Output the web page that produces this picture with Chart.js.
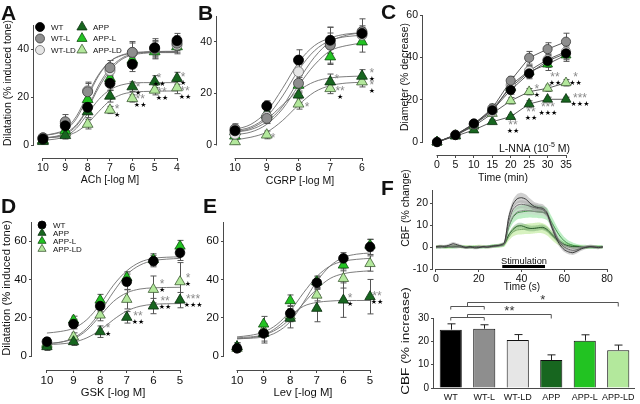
<!DOCTYPE html>
<html>
<head>
<meta charset="utf-8">
<script src="https://cdn.jsdelivr.net/npm/chart.js@4.4.1/dist/chart.umd.min.js"></script>
<style>
  body { margin: 0; background: #fff; }
  #wrap { position: relative; width: 640px; height: 404px; overflow: hidden; background: #fff; }
  canvas { position: absolute; }
</style>
</head>
<body>
<div id="wrap">
  <canvas id="cA" width="200" height="200" style="left:0px;top:0px"></canvas>
  <canvas id="cB" width="190" height="200" style="left:195px;top:0px"></canvas>
  <canvas id="cC" width="260" height="200" style="left:380px;top:0px"></canvas>
  <canvas id="cD" width="205" height="209" style="left:0px;top:195px"></canvas>
  <canvas id="cE" width="185" height="209" style="left:200px;top:195px"></canvas>
  <canvas id="cF1" width="260" height="130" style="left:380px;top:165px"></canvas>
  <canvas id="cF2" width="260" height="124" style="left:380px;top:280px"></canvas>
</div>
<script>
// ---------- DATA ----------
const groups = ["WT", "WT-L", "WT-LD", "APP", "APP-L", "APP-LD"];
const groups4 = ["WT", "APP", "APP-L", "APP-LD"];

// A: ACh
const achDose = [10, 9, 8, 7, 6, 5, 4];
const achWT    = [2.5, 8.0, 15.7, 25.7, 33.6, 40.5, 43.5];
const achWTL   = [3.0, 9.7, 22.2, 32.2, 38.6, 40.3, 42.4];
const achWTLD  = [3.0, 9.0, 22.6, 31.0, 38.5, 40.0, 41.7];
const achAPP   = [1.5, 4.0, 13.9, 20.4, 24.3, 26.4, 27.8];
const achAPPL  = [2.0, 6.0, 19.0, 27.8, 35.4, 38.9, 41.0];
const achAPPLD = [2.0, 5.0, 8.7, 14.6, 19.4, 22.9, 23.9];
const achErr = [
  [1.0, 2.0, 3.0, 3.0, 3.0, 3.0, 3.0],
  [1.5, 3.0, 4.0, 3.0, 4.5, 4.0, 3.0],
  [1.0, 2.0, 3.0, 3.0, 4.0, 3.0, 3.0],
  [1.0, 1.5, 2.5, 2.5, 2.0, 2.5, 2.5],
  [1.0, 2.0, 3.0, 3.0, 3.0, 3.0, 3.0],
  [1.0, 1.5, 2.0, 1.5, 1.5, 2.0, 2.5]
];
const achFitDose = [10, 9.5, 9, 8.5, 8, 7.5, 7, 6.5, 6, 5.5, 5, 4.5, 4];
const achFit = [
  [3.0, 3.5, 5.0, 8.5, 15.5, 25.0, 32.0, 36.0, 38.0, 38.6, 38.9, 39.0, 39.0],
  [4.0, 4.6, 6.2, 11.0, 20.0, 29.0, 34.8, 37.4, 38.4, 38.8, 39.0, 39.0, 39.0],
  [4.0, 4.8, 6.6, 12.0, 21.0, 29.5, 34.8, 37.2, 38.2, 38.5, 38.6, 38.6, 38.6],
  [2.0, 2.4, 3.6, 7.0, 13.0, 19.0, 23.0, 25.0, 25.8, 26.0, 26.0, 26.0, 26.0],
  [3.0, 3.3, 4.5, 8.0, 15.0, 24.0, 31.0, 35.5, 37.5, 38.2, 38.5, 38.5, 38.5],
  [3.0, 3.2, 3.8, 5.5, 9.0, 14.0, 18.5, 21.0, 22.0, 22.3, 22.4, 22.5, 22.5]
];

// B: CGRP
const cgrpDose = [10, 9, 8, 7, 6];
const cgrpWT    = [5.5, 15.1, 32.9, 40.6, 43.2];
const cgrpWTL   = [6.2, 10.3, 23.9, 38.7, 43.9];
const cgrpWTLD  = [4.2, 11.0, 28.4, 39.4, 42.6];
const cgrpAPP   = [5.2, 12.3, 19.4, 24.5, 26.7];
const cgrpAPPL  = [3.5, 11.6, 23.2, 34.2, 40.0];
const cgrpAPPLD = [1.3, 3.9, 15.9, 21.9, 24.5];
const cgrpErr = [
  [1.5, 2.0, 4.0, 5.0, 3.0],
  [2.0, 2.0, 3.0, 7.0, 5.0],
  [1.5, 2.0, 3.0, 4.0, 3.0],
  [1.5, 2.0, 3.0, 3.0, 2.5],
  [1.5, 2.0, 3.0, 3.0, 4.0],
  [1.0, 1.5, 2.0, 2.0, 2.0]
];
const cgrpFitDose = [10, 9.5, 9, 8.5, 8, 7.5, 7, 6.5, 6];
const cgrpFit = [
  [6.0, 8.0, 13.0, 22.0, 32.0, 38.5, 41.5, 43.0, 43.5],
  [5.0, 6.0, 9.0, 15.0, 25.0, 34.0, 40.0, 42.5, 43.5],
  [5.5, 7.0, 11.0, 19.0, 29.0, 36.5, 40.5, 42.0, 42.5],
  [5.0, 6.5, 10.0, 15.5, 21.0, 24.5, 26.0, 26.5, 26.7],
  [4.0, 5.0, 8.0, 14.0, 23.0, 31.0, 36.5, 38.5, 39.5],
  [2.0, 3.0, 5.0, 9.5, 15.5, 20.5, 23.0, 24.0, 24.3]
];

// C: L-NNA time course
const lnnaTime = [0, 5, 10, 15, 20, 25, 30, 35];
const lnnaWT    = [0, 3.3, 8.8, 15.0, 24.6, 32.4, 38.3, 41.9];
const lnnaWTL   = [0, 3.5, 8.5, 15.9, 29.0, 39.8, 43.9, 47.4];
const lnnaWTLD  = [0, 3.3, 8.3, 14.3, 26.9, 33.7, 39.0, 42.7];
const lnnaAPP   = [0, 2.8, 5.7, 9.6, 12.0, 18.0, 20.2, 20.2];
const lnnaAPPL  = [0, 3.0, 8.0, 15.5, 25.8, 33.2, 36.8, 41.1];
const lnnaAPPLD = [0, 3.2, 7.5, 13.5, 19.5, 23.8, 25.4, 28.0];
const lnnaErr = [
  [0.5, 1.0, 1.0, 1.5, 2.0, 2.5, 3.0, 3.0],
  [0.5, 1.0, 1.0, 2.0, 2.0, 3.0, 3.0, 4.0],
  [0.5, 1.0, 1.0, 1.5, 2.0, 2.5, 3.0, 3.0],
  [0.5, 0.8, 1.0, 1.0, 1.0, 1.5, 1.0, 1.0],
  [0.5, 1.0, 1.0, 1.5, 2.0, 2.5, 3.0, 3.0],
  [0.5, 0.8, 1.0, 1.0, 1.5, 1.5, 1.5, 1.5]
];

// D: GSK
const gskDose = [10, 9, 8, 7, 6, 5];
const gskWT    = [7.5, 16.7, 26.1, 38.8, 49.6, 53.9];
const gskAPP   = [4.9, 7.5, 12.7, 20.2, 26.1, 29.2];
const gskAPPL  = [5.7, 18.8, 29.2, 41.0, 50.4, 57.4];
const gskAPPLD = [6.6, 10.1, 21.4, 29.6, 34.8, 38.8];
const gskErr = [
  [2.0, 2.5, 3.0, 4.0, 3.0, 4.0],
  [2.0, 2.0, 3.0, 3.0, 4.0, 4.0],
  [2.0, 2.0, 3.0, 3.0, 3.0, 3.0],
  [2.0, 2.0, 3.0, 5.0, 7.0, 10.0]
];
const gskFitDose = [10, 9.5, 9, 8.5, 8, 7.5, 7, 6.5, 6, 5.5, 5];
const gskFit = [
  [12.0, 12.8, 14.5, 19.0, 27.0, 37.0, 44.5, 49.0, 51.0, 51.6, 51.8],
  [6.0, 6.3, 7.2, 9.5, 13.5, 19.0, 23.5, 26.0, 27.0, 27.3, 27.4],
  [6.5, 7.2, 9.5, 14.5, 23.0, 33.5, 42.5, 47.5, 49.8, 50.6, 51.0],
  [6.5, 7.2, 9.0, 13.5, 21.0, 28.5, 33.0, 35.0, 35.6, 35.8, 35.9]
];

// E: Lev
const levDose = [10, 9, 8, 7, 6, 5];
const levWT    = [4.0, 11.8, 22.3, 38.3, 51.0, 57.0];
const levAPP   = [4.9, 11.8, 19.7, 24.9, 29.2, 31.0];
const levAPPL  = [4.9, 16.7, 28.9, 38.8, 47.5, 57.9];
const levAPPLD = [4.0, 13.6, 20.9, 31.8, 40.5, 48.3];
const levErr = [
  [2.0, 4.0, 4.0, 3.0, 3.0, 4.0],
  [2.0, 5.0, 5.0, 7.0, 9.0, 9.0],
  [2.0, 4.0, 3.0, 3.0, 3.0, 3.0],
  [2.0, 3.0, 3.0, 3.0, 5.0, 4.0]
];
const levFitDose = [10, 9.5, 9, 8.5, 8, 7.5, 7, 6.5, 6, 5.5, 5];
const levFit = [
  [9.0, 9.3, 10.0, 12.5, 18.0, 28.0, 39.0, 47.0, 51.5, 53.2, 53.8],
  [9.0, 9.5, 11.0, 15.0, 21.0, 26.0, 28.0, 28.7, 29.0, 29.0, 29.0],
  [10.0, 10.8, 12.5, 16.5, 23.5, 33.0, 41.5, 47.0, 49.5, 50.5, 51.0],
  [9.5, 10.0, 11.0, 14.0, 19.5, 27.5, 35.0, 40.5, 43.0, 44.0, 44.5]
];

// F top: CBF time course (mean and SEM)
const fTime = [0,2,4,6,8,10,12,14,16,18,20,22,24,26,28,30,32,34,36,38,40,42,44,46,48,50,52,54,56,58,60,62,64,66,68,70,72,74,76,78];
const cbfWT    = [0.2,0.5,0.3,0.8,1.5,1.0,0.4,-0.2,0.1,-0.4,-0.3,0.2,0.0,0.3,0.6,0.9,2.0,13.5,19.5,22.0,22.5,21.8,20.0,18.5,18.0,17.6,15.5,9.5,4.5,1.0,-1.2,-2.2,-2.6,-1.8,-0.8,-0.2,0.2,0.0,-0.3,0.1];
const cbfWTL   = [-0.2,0.0,0.4,0.2,0.5,0.3,0.0,-0.4,-0.2,0.0,0.3,0.1,-0.2,0.2,0.4,0.7,1.6,11.5,17.0,19.0,19.5,19.2,18.6,18.0,17.5,17.0,15.0,10.0,5.5,2.0,0.0,-1.0,-1.5,-1.2,-0.5,0.0,0.3,0.2,-0.1,0.0];
const cbfWTLD  = [0.0,-0.3,0.1,0.3,0.0,-0.2,0.2,0.1,-0.3,-0.1,0.2,0.0,0.3,0.1,0.5,0.8,1.5,9.5,14.0,16.0,16.5,16.8,16.5,16.2,16.0,15.8,14.5,10.5,6.0,2.5,0.8,0.0,-0.5,-0.3,0.0,0.2,0.0,0.1,-0.2,0.0];
const cbfAPP   = [0.1,0.0,-0.2,0.2,0.1,0.3,0.0,-0.1,0.2,0.0,-0.2,0.1,0.3,0.4,0.6,0.8,1.5,5.5,8.0,9.5,9.7,9.0,8.5,8.5,8.8,9.0,8.0,6.0,4.0,2.5,1.2,0.6,0.2,0.3,0.0,-0.2,0.1,0.0,-0.1,0.0];
const cbfAPPL  = [-0.3,-0.1,0.0,0.2,-0.1,0.1,0.3,0.0,-0.2,0.1,0.0,-0.1,0.2,0.4,0.5,0.7,1.4,9.0,13.5,15.5,16.0,16.3,16.5,16.2,16.0,15.8,15.0,11.5,8.0,5.0,2.8,1.5,0.8,0.3,0.0,0.2,-0.1,0.0,0.2,0.0];
const cbfAPPLD = [0.2,0.1,0.0,-0.1,0.3,0.2,0.1,0.2,0.0,0.1,0.3,0.2,0.0,0.3,0.5,0.7,1.2,4.5,6.8,7.8,8.0,8.2,8.4,8.6,8.8,8.5,7.5,5.5,3.5,2.0,1.0,0.5,0.2,0.0,0.1,-0.1,0.0,0.1,0.0,-0.1];
const semWT    = [0.6,0.6,0.7,0.7,0.8,0.7,0.6,0.6,0.6,0.6,0.6,0.6,0.6,0.6,0.7,0.7,0.9,1.6,2.0,2.2,2.3,2.2,2.1,2.0,1.9,1.9,1.8,1.6,1.4,1.2,1.1,1.1,1.0,1.0,0.9,0.8,0.8,0.8,0.7,0.7];
const semWTL   = [0.5,0.5,0.5,0.6,0.6,0.6,0.5,0.5,0.5,0.5,0.5,0.5,0.5,0.6,0.6,0.6,0.8,1.4,1.7,1.8,1.8,1.8,1.7,1.7,1.6,1.6,1.5,1.4,1.2,1.0,0.9,0.9,0.9,0.8,0.8,0.7,0.7,0.7,0.6,0.6];
const semWTLD  = [0.5,0.5,0.6,0.6,0.6,0.5,0.5,0.5,0.5,0.5,0.5,0.5,0.6,0.6,0.6,0.7,0.8,1.2,1.5,1.6,1.7,1.7,1.6,1.6,1.5,1.5,1.5,1.3,1.1,1.0,0.9,0.8,0.8,0.7,0.7,0.7,0.6,0.6,0.6,0.6];
const semAPP   = [0.5,0.5,0.5,0.5,0.5,0.5,0.5,0.5,0.5,0.5,0.5,0.5,0.5,0.6,0.6,0.6,0.7,1.0,1.3,1.4,1.4,1.4,1.3,1.3,1.3,1.3,1.2,1.1,1.0,0.9,0.8,0.7,0.7,0.6,0.6,0.6,0.5,0.5,0.5,0.5];
const semAPPL  = [0.6,0.6,0.6,0.7,0.7,0.6,0.6,0.6,0.6,0.6,0.6,0.6,0.7,0.7,0.8,0.8,1.0,2.0,2.6,2.9,3.0,3.0,3.0,2.9,2.9,2.8,2.8,2.6,2.4,2.1,1.8,1.5,1.3,1.1,1.0,0.9,0.8,0.8,0.7,0.7];
const semAPPLD = [0.7,0.7,0.7,0.7,0.7,0.7,0.7,0.7,0.7,0.7,0.7,0.7,0.7,0.8,0.8,0.9,1.0,1.6,2.0,2.2,2.3,2.3,2.4,2.4,2.4,2.3,2.2,2.0,1.8,1.6,1.3,1.1,1.0,0.9,0.8,0.8,0.7,0.7,0.7,0.7];
const stimulation = [31, 51];

// F bottom: CBF increase
const cbfMean = [25.0, 25.4, 20.6, 12.0, 20.3, 16.2];
const cbfSem  = [2.5, 1.7, 2.3, 2.2, 2.5, 2.2];

// tick labels
const doseTicksA = [10, 9, 8, 7, 6, 5, 4];
const doseTicksB = [10, 9, 8, 7, 6];
const doseTicksDE = [10, 9, 8, 7, 6, 5];
const minTicks = [0, 5, 10, 15, 20, 25, 30, 35];
const secTicks = [0, 20, 40, 60, 80];
const yTicks40 = [0, 20, 40];
const yTicks60 = [0, 20, 40, 60];
const yTicksF1 = [-10, 0, 10, 20];
const yTicksF2 = [0, 10, 20, 30];

// ---------- STYLE ----------
const FONT = "'Liberation Sans', Arial, Helvetica, sans-serif";
const AX = "#4a4a4a";
const STYLE = {
  "WT":     { shape: "circle",   fill: "#000000", edge: "#000000", line: "#3a3a3a", band: "rgba(120,120,120,0.35)" },
  "WT-L":   { shape: "circle",   fill: "#8e8e8e", edge: "#3c3c3c", line: "#666666", band: "rgba(150,150,150,0.30)" },
  "WT-LD":  { shape: "circle",   fill: "#e6e6e6", edge: "#6a6a6a", line: "#8a8a8a", band: "rgba(205,205,205,0.40)" },
  "APP":    { shape: "triangle", fill: "#17661f", edge: "#0b2e0f", line: "#2e5e30", band: "rgba(40,120,50,0.28)" },
  "APP-L":  { shape: "triangle", fill: "#22c322", edge: "#124d12", line: "#3f8f45", band: "rgba(70,205,90,0.35)" },
  "APP-LD": { shape: "triangle", fill: "#b3e89c", edge: "#3d5c33", line: "#78a868", band: "rgba(175,230,130,0.50)" }
};

Chart.defaults.font.family = FONT;
Chart.defaults.color = "#111";
Chart.defaults.animation = false;
Chart.defaults.plugins.legend.display = false;
Chart.defaults.plugins.tooltip.enabled = false;

// ---------- DECORATION PLUGIN ----------
const deco = {
  id: "deco",
  beforeDatasetsDraw(chart, args, o) {
    const ctx = chart.ctx, xs = chart.scales.x, ys = chart.scales.y;
    ctx.save();
    ctx.strokeStyle = o.errColor || "#555";
    ctx.lineWidth = 1;
    chart.data.datasets.forEach(ds => {
      if (!ds.err) return;
      ds.data.forEach((p, j) => {
        const e = ds.err[j];
        if (!e) return;
        const xv = typeof p === "number" ? j : p.x;
        const yv = typeof p === "number" ? p : p.y;
        const x = Math.round(xs.getPixelForValue(xv)) + 0.5;
        const yTop = ys.getPixelForValue(yv + e);
        const yBot = ys.getPixelForValue(ds.upOnly ? yv : yv - e);
        const c = o.cap || 3;
        ctx.beginPath();
        ctx.moveTo(x, yBot); ctx.lineTo(x, yTop);
        ctx.moveTo(x - c, yTop); ctx.lineTo(x + c, yTop);
        if (!ds.upOnly) { ctx.moveTo(x - c, yBot); ctx.lineTo(x + c, yBot); }
        ctx.stroke();
      });
    });
    ctx.restore();
  },
  afterDraw(chart, args, o) {
    const ctx = chart.ctx, xs = chart.scales.x, ys = chart.scales.y, area = chart.chartArea;
    const ox = o.origin[0], oy = o.origin[1];
    ctx.save();
    // axis lines
    ctx.strokeStyle = AX;
    ctx.lineWidth = 1;
    ctx.beginPath();
    const yl = Math.round(area.left) - 0.5;
    ctx.moveTo(yl, ys.getPixelForValue(o.yLine[0]) + 0.5);
    ctx.lineTo(yl, ys.getPixelForValue(o.yLine[1]));
    const xb = Math.round(area.bottom) + 0.5;
    if (o.xLine) {
      ctx.moveTo(xs.getPixelForValue(o.xLine[0]) - 0.5, xb);
      ctx.lineTo(xs.getPixelForValue(o.xLine[1]) + 0.5, xb);
    } else {
      ctx.moveTo(area.left - 1, xb);
      ctx.lineTo(area.right, xb);
    }
    ctx.stroke();

    // stimulation bar
    if (o.stim) {
      ctx.fillStyle = "#000";
      const x0 = xs.getPixelForValue(o.stim[0]), x1 = xs.getPixelForValue(o.stim[1]);
      ctx.fillRect(x0, area.bottom - 4, x1 - x0, 3);
    }

    // significance brackets
    (o.brackets || []).forEach(b => {
      const p0 = xs.getPixelForValue(b.pair[0]), p1 = xs.getPixelForValue(b.pair[1]);
      const mid = (p0 + p1) / 2, pt = xs.getPixelForValue(b.to);
      const yp = Math.round(ys.getPixelForValue(b.yPair)) + 0.5;
      const yt = Math.round(ys.getPixelForValue(b.yTop)) + 0.5;
      ctx.strokeStyle = "#555";
      ctx.beginPath();
      ctx.moveTo(p0, yp + 3); ctx.lineTo(p0, yp); ctx.lineTo(p1, yp); ctx.lineTo(p1, yp + 3);
      ctx.moveTo(mid, yp); ctx.lineTo(mid, yt); ctx.lineTo(pt, yt); ctx.lineTo(pt, yt + 4);
      ctx.stroke();
      ctx.fillStyle = "#333";
      ctx.font = "13px " + FONT;
      ctx.textAlign = "center";
      ctx.textBaseline = "middle";
      ctx.fillText(b.label, (mid + pt) / 2, ys.getPixelForValue(b.yLabel) + 3);
    });

    // significance stars
    (o.stars || []).forEach(s => {
      const x = xs.getPixelForValue(s.x), y = ys.getPixelForValue(s.y);
      ctx.textAlign = "center";
      ctx.textBaseline = "middle";
      ctx.fillStyle = "#8a8a8a";
      ctx.font = "12px " + FONT;
      ctx.fillText(s.g, x, y + 2);
      if (s.b) {
        ctx.fillStyle = "#000";
        ctx.font = "7px 'DejaVu Sans', sans-serif";
        ctx.fillText(s.b, x, y + 7);
      }
    });

    // legend
    (o.legend || []).forEach(it => {
      const st = STYLE[it.g];
      ctx.fillStyle = st.fill;
      ctx.strokeStyle = st.edge;
      ctx.lineWidth = 0.8;
      Chart.helpers.drawPoint(ctx, {
        pointStyle: st.shape, rotation: 0, borderWidth: 0.8,
        radius: st.shape === "triangle" ? it.r * 1.3 : it.r
      }, it.x - ox, it.y - oy);
      ctx.fillStyle = "#111";
      ctx.font = o.legendSize + "px " + FONT;
      ctx.textAlign = "left";
      ctx.textBaseline = "middle";
      ctx.fillText(it.g, it.x - ox + 11, it.y - oy + 0.5);
    });

    // free text (panel letters, axis titles)
    (o.texts || []).forEach(t => {
      ctx.save();
      ctx.fillStyle = t.c || "#111";
      ctx.textBaseline = "middle";
      ctx.translate(t.x - ox, t.y - oy);
      if (t.r) ctx.rotate(t.r * Math.PI / 180);
      if (t.sx) ctx.scale(t.sx, 1);
      if (t.parts) {
        ctx.textAlign = "left";
        let cx = 0;
        t.parts.forEach(p => {
          ctx.font = p[1] + "px " + FONT;
          ctx.fillText(p[0], cx, p[2]);
          cx += ctx.measureText(p[0]).width;
        });
      } else {
        ctx.textAlign = t.a || "center";
        ctx.font = (t.b ? "bold " : "") + t.s + "px " + FONT;
        ctx.fillText(t.t, 0, 0);
      }
      ctx.restore();
    });
    ctx.restore();
  }
};
Chart.register(deco);

// ---------- HELPERS ----------
function axisX(o) {
  return {
    type: "linear", reverse: !!o.reverse, min: o.min, max: o.max,
    afterFit: s => { s.height = o.h; },
    afterBuildTicks: s => { s.ticks = o.ticks.map(v => ({ value: v })); },
    grid: { drawOnChartArea: false, drawTicks: true, tickLength: 3, color: AX },
    border: { display: false },
    ticks: { autoSkip: false, maxRotation: 0, padding: 1, font: { size: o.font }, color: "#111" }
  };
}
function axisY(o) {
  return {
    type: "linear", min: o.min, max: o.max,
    afterFit: s => { s.width = o.w; },
    afterBuildTicks: s => { s.ticks = o.ticks.map(v => ({ value: v })); },
    grid: { drawOnChartArea: false, drawTicks: true, tickLength: 3, color: AX },
    border: { display: false },
    ticks: { autoSkip: false, padding: 2, font: { size: o.font }, color: "#111" }
  };
}

function doseChart(id, o) {
  const datasets = [];
  o.names.forEach((g, i) => {
    if (!o.fits) return;
    datasets.push({
      type: "line", data: o.fitX.map((x, j) => ({ x, y: o.fits[i][j] })),
      borderColor: "#6e6e6e", borderWidth: 0.9, pointRadius: 0,
      cubicInterpolationMode: "monotone", order: 10, clip: false
    });
  });
  o.names.forEach((g, i) => {
    const st = STYLE[g];
    datasets.push({
      type: "scatter", label: g,
      data: o.x.map((x, j) => ({ x, y: o.means[i][j] })),
      err: o.errs[i],
      showLine: !!o.connect, borderColor: "#4a4a4a", borderWidth: 0.9,
      pointStyle: st.shape,
      pointRadius: st.shape === "triangle" ? o.r * 1.25 : o.r,
      pointBackgroundColor: st.fill, pointBorderColor: st.edge, pointBorderWidth: 0.8,
      order: 1, clip: false
    });
  });
  new Chart(document.getElementById(id), {
    type: "scatter",
    data: { datasets },
    options: {
      responsive: false,
      layout: { padding: { left: 0, top: o.pad[0], right: o.pad[1], bottom: 0 } },
      scales: { x: axisX(o.xa), y: axisY(o.ya) },
      plugins: { deco: o.deco }
    }
  });
}

// ---------- A ----------
doseChart("cA", {
  names: groups, x: achDose,
  means: [achWT, achWTL, achWTLD, achAPP, achAPPL, achAPPLD], errs: achErr,
  fitX: achFitDose, fits: achFit, r: 5, pad: [25, 23],
  xa: { reverse: true, min: 4, max: 10.4, h: 42, ticks: doseTicksA, font: 10.5 },
  ya: { min: -5.4, max: 50, w: 34, ticks: yTicks40, font: 10.5 },
  deco: {
    origin: [0, 0], yLine: [0, 50], xLine: [10, 4],
    legend: [
      { g: "WT", x: 40, y: 27, r: 4.5 }, { g: "WT-L", x: 40, y: 38.5, r: 4.5 }, { g: "WT-LD", x: 40, y: 50, r: 4.5 },
      { g: "APP", x: 82, y: 27, r: 4.5 }, { g: "APP-L", x: 82, y: 38.5, r: 4.5 }, { g: "APP-LD", x: 82, y: 50, r: 4.5 }
    ],
    legendSize: 8,
    stars: [
      { x: 6.68, y: 15.4, g: "*", b: "★" },
      { x: 5.74, y: 24.6, g: "*", b: "★" },
      { x: 5.65, y: 19.6, g: "**", b: "★★" },
      { x: 4.80, y: 28.3, g: "*", b: "★★" },
      { x: 4.67, y: 22.5, g: "**", b: "★★" },
      { x: 3.73, y: 28.8, g: "*", b: "★" },
      { x: 3.64, y: 22.9, g: "**", b: "★★" }
    ],
    texts: [
      { t: "A", x: 1, y: 14, s: 21, b: true, a: "left" },
      { t: "Dilatation (% induced tone)", x: 8, y: 83, s: 10.5, r: -90 },
      { t: "ACh [-log M]", x: 110, y: 180, s: 10.5 }
    ]
  }
});

// ---------- B ----------
doseChart("cB", {
  names: groups, x: cgrpDose,
  means: [cgrpWT, cgrpWTL, cgrpWTLD, cgrpAPP, cgrpAPPL, cgrpAPPLD], errs: cgrpErr,
  fitX: cgrpFitDose, fits: cgrpFit, r: 5, pad: [16, 23],
  xa: { reverse: true, min: 6, max: 10.567, h: 42, ticks: doseTicksB, font: 10.5 },
  ya: { min: -5.05, max: 50, w: 22, ticks: yTicks40, font: 10.5 },
  deco: {
    origin: [195, 0], yLine: [0, 50], xLine: [10, 6],
    stars: [
      { x: 8.80, y: 3.3, g: "*" },
      { x: 7.73, y: 15.1, g: "*" },
      { x: 6.79, y: 26.0, g: "*" },
      { x: 6.69, y: 21.3, g: "**", b: "★" },
      { x: 5.69, y: 28.3, g: "*", b: "★" },
      { x: 5.69, y: 23.7, g: "*", b: "★" }
    ],
    texts: [
      { t: "B", x: 198, y: 14, s: 21, b: true, a: "left" },
      { t: "CGRP [-log M]", x: 300, y: 181, s: 10.5 }
    ]
  }
});

// ---------- C ----------
doseChart("cC", {
  names: groups, x: lnnaTime, connect: true,
  means: [lnnaWT, lnnaWTL, lnnaWTLD, lnnaAPP, lnnaAPPL, lnnaAPPLD], errs: lnnaErr,
  r: 4.6, pad: [15, 74],
  xa: { min: -3.8, max: 35, h: 45, ticks: minTicks, font: 10.5 },
  ya: { min: -6.1, max: 60, w: 43, ticks: yTicks60, font: 10.5 },
  deco: {
    origin: [380, 0], yLine: [0, 60], xLine: [0, 35],
    stars: [
      { x: 20.6, y: 8.5, g: "**", b: "★★" },
      { x: 25.5, y: 14.7, g: "**", b: "★★" },
      { x: 27.1, y: 25.5, g: "*", b: "★" },
      { x: 30.1, y: 17.0, g: "***", b: "★★★" },
      { x: 32.0, y: 31.2, g: "**", b: "★★" },
      { x: 38.8, y: 21.3, g: "***", b: "★★★" },
      { x: 37.6, y: 31.2, g: "*", b: "★★" }
    ],
    texts: [
      { t: "C", x: 381, y: 13, s: 21, b: true, a: "left" },
      { t: "Diameter (% decrease)", x: 405, y: 77, s: 10.5, r: -90 },
      { t: "Time (min)", x: 503, y: 178, s: 10.5 },
      { x: 499, y: 149, parts: [["L-NNA (10", 10.5, 0], ["-5", 7, -4], [" M)", 10.5, 0]] }
    ]
  }
});

// ---------- D ----------
doseChart("cD", {
  names: groups4, x: gskDose,
  means: [gskWT, gskAPP, gskAPPL, gskAPPLD], errs: gskErr,
  fitX: gskFitDose, fits: gskFit, r: 4.8, pad: [27, 25],
  xa: { reverse: true, min: 5, max: 10.56, h: 34, ticks: doseTicksDE, font: 11.5 },
  ya: { min: -7.3, max: 70, w: 32, ticks: yTicks60, font: 11.5 },
  deco: {
    origin: [0, 195], yLine: [0, 70], xLine: [10, 5],
    legend: [
      { g: "WT", x: 42, y: 225, r: 4 }, { g: "APP", x: 42, y: 233, r: 3.6 },
      { g: "APP-L", x: 42, y: 241, r: 3.6 }, { g: "APP-LD", x: 42, y: 249, r: 3.6 }
    ],
    legendSize: 8,
    stars: [
      { x: 7.70, y: 15.1, g: "*", b: "★" },
      { x: 6.58, y: 21.4, g: "**", b: "★★" },
      { x: 5.67, y: 38.1, g: "*", b: "★" },
      { x: 5.56, y: 29.2, g: "**", b: "★★" },
      { x: 4.70, y: 41.2, g: "*", b: "★" },
      { x: 4.51, y: 30.3, g: "***", b: "★★★" }
    ],
    texts: [
      { t: "D", x: 1, y: 207, s: 21, b: true, a: "left" },
      { t: "Dilatation (% induced tone)", x: 7, y: 288, s: 11.3, r: -90 },
      { t: "GSK [-log M]", x: 113, y: 393, s: 11.3 }
    ]
  }
});

// ---------- E ----------
doseChart("cE", {
  names: groups4, x: levDose,
  means: [levWT, levAPP, levAPPL, levAPPLD], errs: levErr,
  fitX: levFitDose, fits: levFit, r: 4.8, pad: [27, 15],
  xa: { reverse: true, min: 5, max: 10.49, h: 34, ticks: doseTicksDE, font: 11.5 },
  ya: { min: -7.3, max: 70, w: 24, ticks: yTicks60, font: 11.5 },
  deco: {
    origin: [200, 195], yLine: [0, 70], xLine: [10, 5],
    stars: [
      { x: 5.75, y: 30.8, g: "*", b: "★" },
      { x: 4.74, y: 31.8, g: "**", b: "★★" }
    ],
    texts: [
      { t: "E", x: 203, y: 207, s: 21, b: true, a: "left" },
      { t: "Lev [-log M]", x: 303, y: 393, s: 11.3 }
    ]
  }
});

// ---------- F top: time course ----------
const cbfMeans = [cbfWT, cbfWTL, cbfWTLD, cbfAPP, cbfAPPL, cbfAPPLD];
const cbfSems = [semWT, semWTL, semWTLD, semAPP, semAPPL, semAPPLD];
const fDatasets = [];
groups.forEach((g, i) => {
  const st = STYLE[g];
  fDatasets.push({
    data: fTime.map((t, j) => ({ x: t, y: cbfMeans[i][j] + cbfSems[i][j] })),
    borderWidth: 0, pointRadius: 0, fill: false, tension: 0.25, order: 5
  });
  fDatasets.push({
    data: fTime.map((t, j) => ({ x: t, y: cbfMeans[i][j] - cbfSems[i][j] })),
    borderWidth: 0, pointRadius: 0, fill: "-1", backgroundColor: st.band, tension: 0.25, order: 5
  });
});
groups.forEach((g, i) => {
  fDatasets.push({
    data: fTime.map((t, j) => ({ x: t, y: cbfMeans[i][j] })),
    borderColor: STYLE[g].line, borderWidth: 1, pointRadius: 0, fill: false, tension: 0.25, order: 1
  });
});
new Chart(document.getElementById("cF1"), {
  type: "line",
  data: { datasets: fDatasets },
  options: {
    responsive: false,
    layout: { padding: { left: 0, top: 25, right: 33, bottom: 0 } },
    scales: {
      x: axisX({ min: -1.4, max: 80, h: 26, ticks: secTicks, font: 10.5 }),
      y: axisY({ min: -10, max: 26, w: 53, ticks: yTicksF1, font: 10.5 })
    },
    plugins: {
      deco: {
        origin: [380, 165], yLine: [-10, 26], xLine: [0, 80], stim: stimulation,
        texts: [
          { t: "F", x: 381, y: 189, s: 21, b: true, a: "left" },
          { t: "CBF (% change)", x: 406, y: 208, s: 10.5, r: -90 },
          { t: "Time (s)", x: 522, y: 287, s: 10 },
          { t: "Stimulation", x: 524, y: 261, s: 9.3 }
        ]
      }
    }
  }
});

// ---------- F bottom: bars ----------
new Chart(document.getElementById("cF2"), {
  type: "bar",
  data: {
    labels: groups,
    datasets: [{
      data: cbfMean, err: cbfSem, upOnly: true,
      backgroundColor: groups.map(g => STYLE[g].fill),
      borderColor: "#111", borderWidth: 1,
      barPercentage: 0.66, categoryPercentage: 1
    }]
  },
  options: {
    responsive: false,
    layout: { padding: { left: 0, top: 38, right: 5, bottom: 0 } },
    scales: {
      x: {
        afterFit: s => { s.height = 16; },
        grid: { display: false, drawTicks: false },
        border: { display: false },
        ticks: { padding: 4, font: { size: 9 }, color: "#111", autoSkip: false, maxRotation: 0 }
      },
      y: axisY({ min: 0, max: 30, w: 54, ticks: yTicksF2, font: 10 })
    },
    plugins: {
      deco: {
        origin: [380, 280], yLine: [0, 30], cap: 4, errColor: "#222",
        brackets: [
          { pair: [0, 1], to: 5, yPair: 35.1, yTop: 36.9, yLabel: 39.0, label: "*" },
          { pair: [0, 1], to: 3, yPair: 30.4, yTop: 31.7, yLabel: 34.3, label: "**" }
        ],
        texts: [
          { t: "CBF (% increase)", x: 406, y: 341, s: 10.5, r: -90, sx: 1.3 }
        ]
      }
    }
  }
});
</script>
</body>
</html>
